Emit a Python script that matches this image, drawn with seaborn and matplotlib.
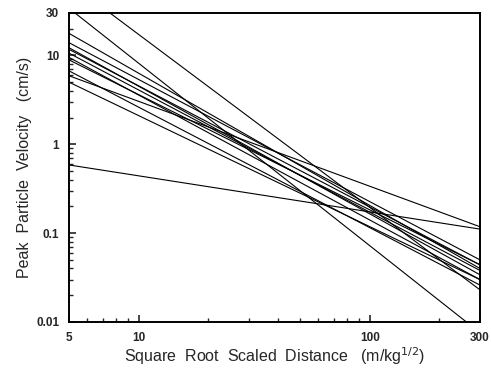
import seaborn as sns
import matplotlib.pyplot as plt
import pandas as pd
from matplotlib.ticker import FixedLocator, FixedFormatter, LogLocator, NullFormatter

# line endpoints (scaled distance, PPV)
x_start = [5.31, 7.52, 5, 5, 5, 5, 5, 5, 5, 5, 5, 5, 5]
v_start = [30, 30, 17.7, 13.9, 12.2, 11.7, 10.6, 9.5, 8.9, 6.7, 5.0, 5.9, 0.585]
x_end = [262, 300, 300, 300, 300, 300, 300, 300, 300, 300, 300, 300, 300]
v_end = [0.01, 0.023, 0.040, 0.050, 0.034, 0.044, 0.038, 0.030, 0.044, 0.026, 0.030, 0.118, 0.111]

x_ticks = [5, 10, 100, 300]
y_ticks = [0.01, 0.1, 1, 10, 30]

rows = []
for i in range(len(x_start)):
    rows.append({"line": i, "x": x_start[i], "v": v_start[i]})
    rows.append({"line": i, "x": x_end[i], "v": v_end[i]})
df = pd.DataFrame(rows)

sns.set_style("ticks")
plt.rcParams['font.family'] = ['Liberation Sans', 'DejaVu Sans']

fig = plt.figure(figsize=(4.91, 3.68), dpi=100)
ax = fig.add_axes([0.1405, 0.125, 0.8371, 0.8397])

sns.lineplot(data=df, x="x", y="v", units="line", estimator=None,
             color="black", linewidth=0.8, ax=ax, legend=False)

ax.set_xscale("log")
ax.set_yscale("log")
ax.set_xlim(5, 300)
ax.set_ylim(0.01, 30)

ax.xaxis.set_major_locator(FixedLocator(x_ticks))
ax.xaxis.set_major_formatter(FixedFormatter([str(t) for t in x_ticks]))
ax.xaxis.set_minor_locator(LogLocator(base=10, subs=range(2, 10)))
ax.xaxis.set_minor_formatter(NullFormatter())
ax.yaxis.set_major_locator(FixedLocator(y_ticks))
ax.yaxis.set_major_formatter(FixedFormatter(["0.01", "0.1", "1", "10", "30"]))
ax.yaxis.set_minor_locator(LogLocator(base=10, subs=range(2, 10)))
ax.yaxis.set_minor_formatter(NullFormatter())

ax.tick_params(which="both", direction="in", top=False, right=False, labelsize=8.5)
ax.tick_params(which="major", length=5, width=1.2, pad=7)
ax.tick_params(which="minor", length=3, width=1)
for lab in ax.get_xticklabels() + ax.get_yticklabels():
    lab.set_fontweight("bold")

for s in ax.spines.values():
    s.set_visible(True)
    s.set_linewidth(1.4)
    s.set_color("black")

ax.set_xlabel("Square  Root  Scaled  Distance   (m/kg$^{1/2}$)", fontsize=11.5, labelpad=1)
ax.set_ylabel("Peak  Particle  Velocity   (cm/s)", fontsize=11.5, labelpad=3)

fig.savefig("out.png", dpi=100)
